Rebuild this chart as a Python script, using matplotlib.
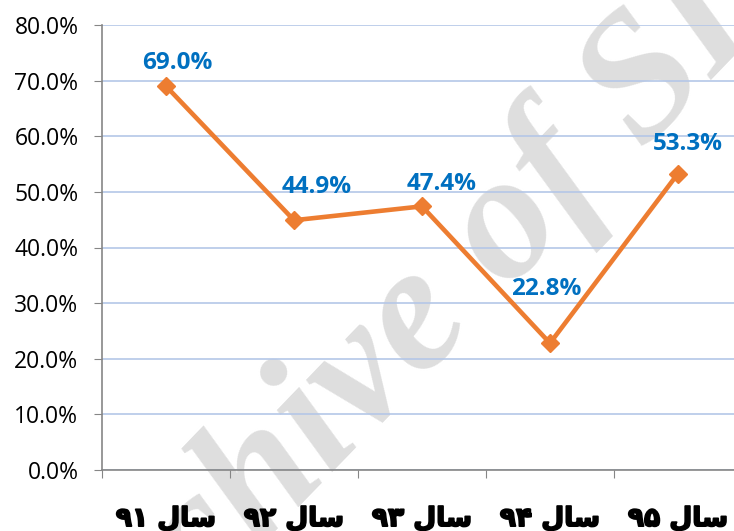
import matplotlib
matplotlib.use("Agg")
import matplotlib.pyplot as plt
import matplotlib.patheffects as pe
from matplotlib.ticker import FuncFormatter

# data
years = ["سال ۹۱", "سال ۹۲", "سال ۹۳", "سال ۹۴", "سال ۹۵"]
values = [69.0, 44.9, 47.4, 22.8, 53.3]
y_ticks = [0, 10, 20, 30, 40, 50, 60, 70, 80]

# label offsets in points (dx, dy), placed by hand like in the original
label_offsets = [(8, 17), (16, 24), (14, 16), (-3, 39), (7, 21)]

# matplotlib has no arabic shaping, so write "سال" in presentation forms, visual order
SAL_VISUAL = "\uFEDD\uFE8E\uFEB3"


def visual(label):
    num = label.split()[1]
    return num + " " + SAL_VISUAL


fig = plt.figure(figsize=(7.34, 5.31), dpi=100)
ax = fig.add_axes([102 / 734, 1 - 470 / 531, 640 / 734, 445 / 531])
ax.set_facecolor("none")

# watermark behind the chart
fig.text(0.59, 0.41, "Archive of SID", fontsize=130, family="Liberation Serif",
         style="italic", weight="bold", color="#dedede", rotation=46,
         rotation_mode="anchor", ha="center", va="center", zorder=-1)

x = list(range(len(years)))
ax.plot(x, values, color="#ED7D31", linewidth=3.3, marker="D",
        markersize=9, markerfacecolor="#ED7D31", markeredgecolor="#ED7D31", zorder=3)

for xi, v, (dx, dy) in zip(x, values, label_offsets):
    ax.annotate(f"{v:.1f}%", (xi, v), xytext=(dx, dy), textcoords="offset points",
                ha="center", va="center", color="#0070C0", fontsize=17.5,
                weight="bold", family="Open Sans", zorder=4)

ax.set_xlim(-0.5, len(years) - 0.5)
ax.set_ylim(0, 80)
ax.set_yticks(y_ticks)
ax.yaxis.set_major_formatter(FuncFormatter(lambda v, p: f"{v:.1f}%"))
ax.set_xticks([i + 0.5 for i in range(-1, len(years))], minor=False)
ax.set_xticklabels([])
ax.set_xticks(x, minor=True)
xlabels = ax.set_xticklabels([visual(y) for y in years], minor=True, fontsize=19,
                             weight="bold", family="DejaVu Sans")
for t in xlabels:
    # the original uses a very heavy persian font
    t.set_path_effects([pe.withStroke(linewidth=1.3, foreground="black")])

ax.grid(axis="y", color="#B4C7E7", linewidth=1.2, zorder=0)
ax.set_axisbelow(True)
for s in ["top", "right"]:
    ax.spines[s].set_visible(False)
for s in ["left", "bottom"]:
    ax.spines[s].set_color("#868686")
    ax.spines[s].set_linewidth(1.2)

ax.tick_params(axis="y", which="major", length=6, color="#868686", pad=11,
               labelsize=16.5)
ax.tick_params(axis="x", which="major", length=6, color="#868686")
ax.tick_params(axis="x", which="minor", length=0, pad=26)
for t in ax.get_yticklabels():
    t.set_family("Open Sans")

fig.savefig("out.png", dpi=100)
